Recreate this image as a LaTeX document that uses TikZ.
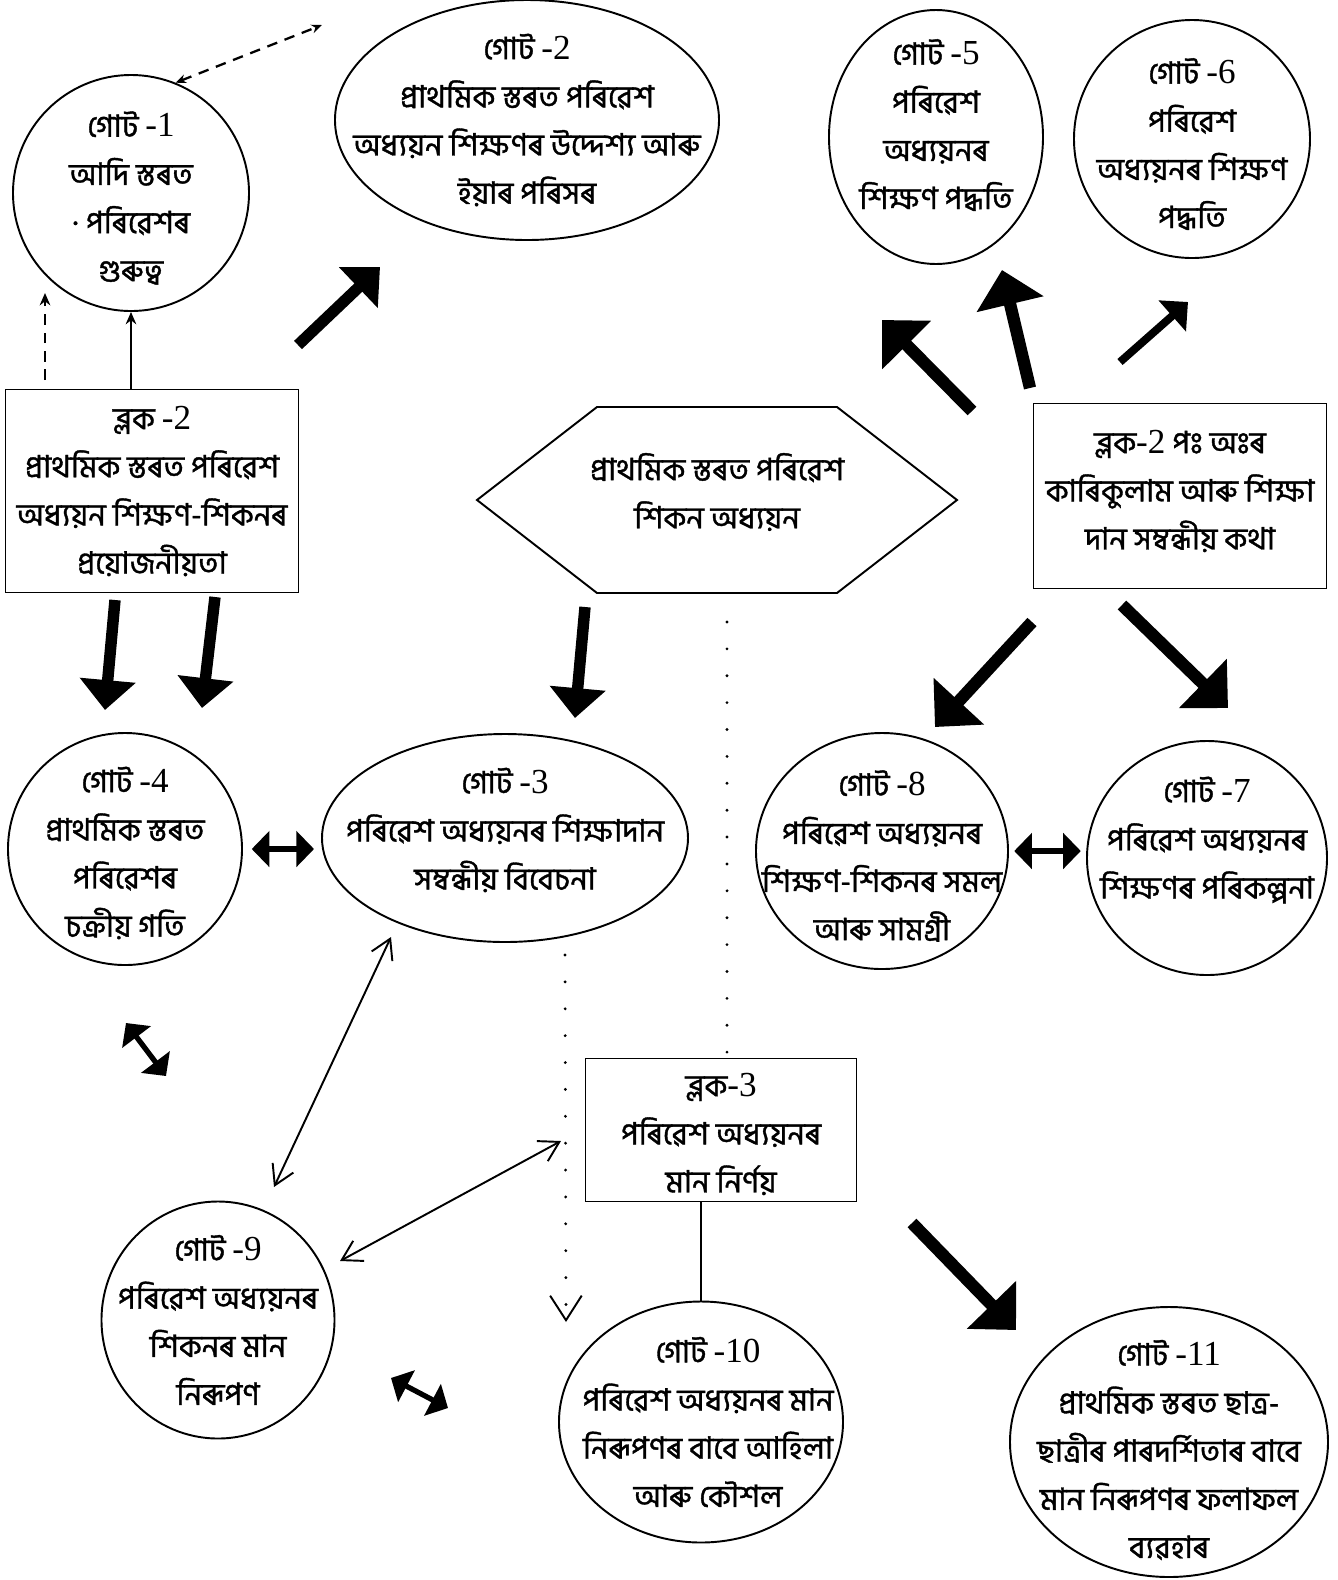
\documentclass[tikz,border=0pt]{standalone}
\usepackage{fontspec}
\setmainfont[Script=Bengali,FakeBold=1.2]{Hind Siliguri}
\newfontfamily\numf{Liberation Serif}
\usetikzlibrary{shapes.geometric,arrows.meta}
\newlength{\pxl}\setlength{\pxl}{0.02cm}
\newcommand{\nm}[1]{{\numf\fontsize{20}{27.4}\selectfont #1}}

\begin{document}
\begin{tikzpicture}[x=\pxl,y=-\pxl,
  bn/.style={font=\fontsize{17.5}{27.4}\selectfont},
  txt/.style={bn, align=center},
  sz/.style 2 args={minimum width=#1*\pxl, minimum height=#2*\pxl},
  goat/.style={draw, ellipse, line width=1.1pt, inner sep=0pt},
  blok/.style={draw, rectangle, line width=1.1pt, inner sep=0pt},
  fat/.style={line width=6.5pt, -{Triangle[length=17pt,width=31pt]}},
  fatter/.style={line width=7pt, -{Triangle[length=20pt,width=38pt]}},
  slim/.style={line width=4.5pt, -{Triangle[length=12pt,width=23pt]}},
  twin/.style={line width=3pt, {Triangle[length=10pt,width=20pt]}-{Triangle[length=10pt,width=20pt]}},
  thin/.style={line width=1.1pt, {Straight Barb[length=11pt,width=13pt]}-{Straight Barb[length=11pt,width=13pt]}},
  dots/.style={line width=1.8pt, line cap=round, dash pattern=on 0pt off 15.3pt},
  dashline/.style={line width=1.3pt, dash pattern=on 6pt off 4.5pt}]
\useasboundingbox (0,0) rectangle (1338,1580);

% top row
\node[goat, sz={236}{236}, label={[txt, yshift=-5*\pxl]center:{গোট \nm{-1}\\ আদি স্তৰত\\ · পৰিৱেশৰ\\ গুৰুত্ব}}] (goat1) at (131,193) {};
\node[goat, sz={384}{240}, label={[txt]center:{গোট \nm{-2}\\ প্ৰাথমিক স্তৰত পৰিৱেশ\\ অধ্যয়ন শিক্ষণৰ উদ্দেশ্য আৰু\\ ইয়াৰ পৰিসৰ}}] (goat2) at (527,120) {};
\node[goat, sz={214}{254}, label={[txt, yshift=12*\pxl]center:{গোট \nm{-5}\\ পৰিৱেশ\\ অধ্যয়নৰ\\ শিক্ষণ পদ্ধতি}}] (goat5) at (936,137) {};
\node[goat, sz={236}{238}, label={[txt, yshift=-5*\pxl]center:{গোট \nm{-6}\\ পৰিৱেশ\\ অধ্যয়নৰ শিক্ষণ\\ পদ্ধতি}}] (goat6) at (1192,139) {};

% blocks
\node[blok, sz={293}{203}, label={[txt]center:{ব্লক \nm{-2}\\ প্ৰাথমিক স্তৰত পৰিৱেশ\\ অধ্যয়ন শিক্ষণ-শিকনৰ\\ প্ৰয়োজনীয়তা}}] (blk2) at (152,491) {};
\node[txt] (hexa) at (717,492) {প্ৰাথমিক স্তৰত পৰিৱেশ\\ শিকন অধ্যয়ন};
\draw[line width=1.1pt] (hexa.center) ++(-240,8) -- ++(120,-93) -- ++(240,0) -- ++(120,93) -- ++(-120,93) -- ++(-240,0) -- cycle;
\node[blok, sz={293}{185}, label={[txt, yshift=5*\pxl]center:{ব্লক\nm{-2} পঃ অঃৰ\\ কাৰিকুলাম আৰু শিক্ষা\\ দান সম্বন্ধীয় কথা}}] (blk2r) at (1180,496) {};

% middle row
\node[goat, sz={234}{232}, label={[txt, yshift=-4*\pxl]center:{গোট \nm{-4}\\ প্ৰাথমিক স্তৰত\\ পৰিৱেশৰ\\ চক্ৰীয় গতি}}] (goat4) at (125,849) {};
\node[goat, sz={366}{208}, label={[txt, yshift=8*\pxl]center:{গোট \nm{-3}\\ পৰিৱেশ অধ্যয়নৰ শিক্ষাদান\\ সম্বন্ধীয় বিবেচনা}}] (goat3) at (505,838) {};
\node[goat, sz={252}{236}, label={[txt, yshift=-5*\pxl]center:{গোট \nm{-8}\\ পৰিৱেশ অধ্যয়নৰ\\ শিক্ষণ-শিকনৰ সমল\\ আৰু সামগ্ৰী}}] (goat8) at (882,851) {};
\node[goat, sz={240}{234}, label={[txt, yshift=18*\pxl]center:{গোট \nm{-7}\\ পৰিৱেশ অধ্যয়নৰ\\ শিক্ষণৰ পৰিকল্পনা}}] (goat7) at (1207,858) {};

% bottom row
\node[blok, sz={271}{143}, label={[txt, yshift=-4*\pxl]center:{ব্লক\nm{-3}\\ পৰিৱেশ অধ্যয়নৰ\\ মান নিৰ্ণয়}}] (blk3) at (721,1130) {};
\node[goat, sz={233}{237}, label={[txt]center:{গোট \nm{-9}\\ পৰিৱেশ অধ্যয়নৰ\\ শিকনৰ মান\\ নিৰূপণ}}] (goat9) at (218,1320) {};
\node[goat, sz={284}{241}, label={[txt, xshift=7*\pxl]center:{গোট \nm{-10}\\ পৰিৱেশ অধ্যয়নৰ মান\\ নিৰূপণৰ বাবে আহিলা\\ আৰু কৌশল}}] (goat10) at (701,1422) {};
\node[goat, sz={318}{270}, label={[txt, yshift=-8*\pxl]center:{গোট \nm{-11}\\ প্ৰাথমিক স্তৰত ছাত্ৰ-\\ ছাত্ৰীৰ পাৰদৰ্শিতাৰ বাবে\\ মান নিৰূপণৰ ফলাফল\\ ব্যৱহাৰ}}] (goat11) at (1169,1442) {};

% free ends
\coordinate (v1) at (45,380); \coordinate (v2) at (45,293);
\coordinate (t1) at (322,25);
\coordinate (f1a) at (298,345);  \coordinate (f1b) at (380,267);
\coordinate (f2a) at (115,600);  \coordinate (f2b) at (105,710);
\coordinate (f3a) at (215,597);  \coordinate (f3b) at (202,708);
\coordinate (f4a) at (585,607);  \coordinate (f4b) at (575,718);
\coordinate (f5a) at (972,411);  \coordinate (f5b) at (882,320);
\coordinate (f6a) at (1030,388); \coordinate (f6b) at (1002,270);
\coordinate (f7a) at (1120,362); \coordinate (f7b) at (1188,302);
\coordinate (f8a) at (1032,622); \coordinate (f8b) at (935,727);
\coordinate (f9a) at (1122,605); \coordinate (f9b) at (1228,708);
\coordinate (f10a) at (912,1223); \coordinate (f10b) at (1016,1330);
\coordinate (c1) at (391,937); \coordinate (c2) at (274,1187);
\coordinate (c3) at (340,1261); \coordinate (c4) at (561,1141);
\coordinate (e1) at (126,1023); \coordinate (e2) at (166,1076);
\coordinate (e3) at (391,1378); \coordinate (e4) at (448,1408);
\coordinate (d1) at (727,622);
\coordinate (d2) at (565,955); \coordinate (d3) at (566,1322);

% thin and dashed links
\draw[line width=1.1pt, -{Stealth[length=7pt,width=6pt]}] (goat1.south |- blk2.north) -- (goat1.south);
\draw[dashline, -{Stealth[length=7pt,width=6pt]}] (v1) -- (v2);
\draw[dashline, {Stealth[length=6pt,width=5pt]}-{Stealth[length=6pt,width=5pt]}] (goat1.68) -- (t1);
\draw[line width=1.1pt] (goat10.north |- blk3.south) -- (goat10.north);
\draw[thin] (c1) -- (c2);
\draw[thin] (c3) -- (c4);
\draw[dots] (d1) -- (d1 |- blk3.north);
\draw[dots, -{Straight Barb[length=14pt,width=18pt,line width=1.1pt]}] (d2) -- (d3);

% heavy arrows
\draw[fat] (f1a) -- (f1b);
\draw[fat] (f2a) -- (f2b);
\draw[fat] (f3a) -- (f3b);
\draw[fat] (f4a) -- (f4b);
\draw[fatter] (f5a) -- (f5b);
\draw[fatter] (f6a) -- (f6b);
\draw[slim] (f7a) -- (f7b);
\draw[fatter] (f8a) -- (f8b);
\draw[fatter] (f9a) -- (f9b);
\draw[fatter] (f10a) -- (f10b);

% double headed
\draw[twin, shorten <=5pt, shorten >=4pt] (goat4.east) -- (goat4.east -| goat3.west);
\draw[twin, shorten <=3pt, shorten >=3pt] (goat8.east) -- (goat8.east -| goat7.west);
\draw[twin] (e1) -- (e2);
\draw[twin] (e3) -- (e4);
\end{tikzpicture}
\end{document}
